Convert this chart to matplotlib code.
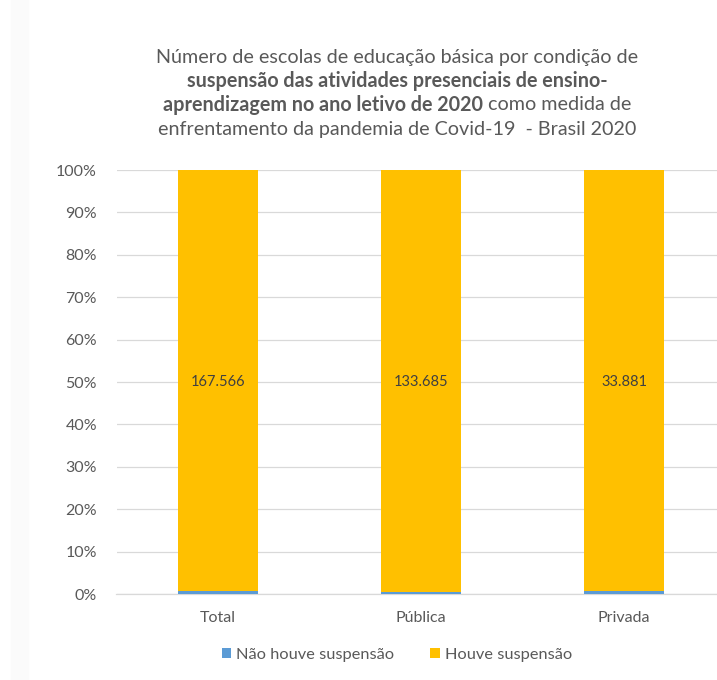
import matplotlib
matplotlib.use("Agg")
import matplotlib.pyplot as plt
import numpy as np

categories = ["Total", "Pública", "Privada"]
houve = [167566, 133685, 33881]
nao_houve = [1050, 780, 270]
value_labels = ["167.566", "133.685", "33.881"]
series_names = ["Não houve suspensão", "Houve suspensão"]

title_lines = [
    [("Número de escolas de educação básica por condição de", False)],
    [("suspensão das atividades presenciais de ensino-", True)],
    [("aprendizagem no ano letivo de 2020", True), (" como medida de", False)],
    [("enfrentamento da pandemia de Covid-19  - Brasil 2020", False)],
]

plt.rcParams['font.family'] = ['Lato', 'DejaVu Sans']
blue = "#5b9bd5"
gold = "#ffc000"
gray = "#595959"

W, H = 717, 680
fig = plt.figure(figsize=(W / 100, H / 100), dpi=100)
fig.patch.set_facecolor("white")

# faint strip on left edge
fig.patches.append(plt.Rectangle((11 / W, 0), 17 / W, 1, transform=fig.transFigure,
                                 color="#fbfbfb", zorder=0))

ax = fig.add_axes([116.5 / W, 1 - 594 / H, 609 / W, 424 / H])
ax.set_facecolor("none")

tot = np.array(houve) + np.array(nao_houve)
p_nao = np.array(nao_houve) / tot
p_sim = np.array(houve) / tot
x = np.arange(len(categories))
ax.bar(x, p_nao, width=0.395, color=blue, label=series_names[0], zorder=3)
ax.bar(x, p_sim, width=0.395, bottom=p_nao, color=gold, label=series_names[1], zorder=3)

for xi, lab in zip(x, value_labels):
    ax.text(xi, 0.5, lab, ha="center", va="center", fontsize=10.5, color="#404040", zorder=4)

ax.set_xlim(-0.5, 2.5)
ax.set_ylim(0, 1)
ax.set_yticks(np.arange(0, 1.01, 0.1))
ax.set_yticklabels([f"{int(round(v * 100))}%" for v in np.arange(0, 1.01, 0.1)])
ax.set_xticks(x)
ax.set_xticklabels(categories)
ax.tick_params(axis="both", length=0, colors=gray, labelsize=11.5)
ax.tick_params(axis="y", pad=14)
ax.tick_params(axis="x", pad=12)
ax.grid(axis="y", color="#d9d9d9", linewidth=0.9, zorder=0)
for s in ["top", "right", "left"]:
    ax.spines[s].set_visible(False)
ax.spines["bottom"].set_color("#d9d9d9")
ax.spines["bottom"].set_linewidth(0.9)

leg = fig.legend(loc="center", bbox_to_anchor=(397 / W, 1 - 655 / H), ncol=2, frameon=False,
                 fontsize=11.8, handlelength=0.6, handleheight=0.6, handletextpad=0.3,
                 columnspacing=2.2, labelcolor=gray)

# title with mixed bold
fig.canvas.draw()
renderer = fig.canvas.get_renderer()
ys = [57, 81, 105, 129]
for line, yp in zip(title_lines, ys):
    texts = []
    for s, b in line:
        t = fig.text(0, 1 - yp / H, s, fontsize=14.2, color=gray,
                     fontweight="bold" if b else "normal", va="center", ha="left")
        texts.append(t)
    widths = [t.get_window_extent(renderer).width for t in texts]
    total_w = sum(widths)
    x0 = 397 - total_w / 2
    for t, w in zip(texts, widths):
        t.set_x(x0 / W)
        x0 += w

fig.savefig("out.png", dpi=100, facecolor="white")
